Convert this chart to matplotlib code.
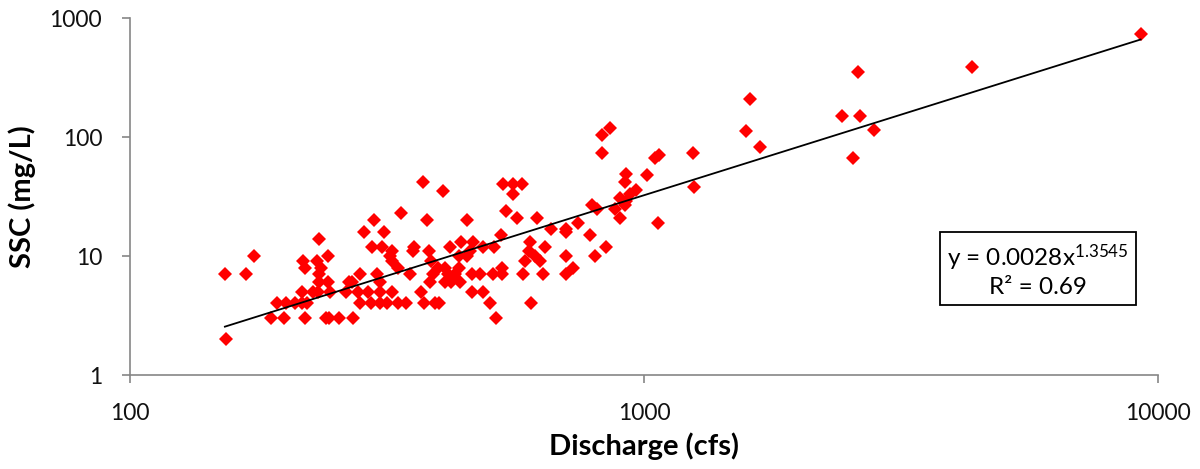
import numpy as np
import matplotlib
matplotlib.use("Agg")
import matplotlib.pyplot as plt

# Discharge (cfs) and suspended sediment concentration (mg/L) samples
discharge = [
    153, 154, 168, 174,
    188, 199, 193, 201, 209, 216, 221,
    219, 216, 217, 219, 233, 231, 243, 235, 233, 233, 243, 227, 232, 245,
    241, 244, 255, 263, 267, 272,
    285, 299, 312, 296, 309, 323, 321, 323, 332, 351, 357, 355, 382, 385,
    398, 388, 383, 369, 374, 392, 399, 345, 332, 316, 306, 295, 280,
    278, 291, 323, 270, 280, 302, 306, 306,
    371, 407, 336, 379, 452,
    420, 441, 465, 487, 458, 436, 452, 410, 436, 416, 428, 410, 421, 439,
    462, 480, 462, 487,
    532, 555, 578, 555, 539, 567, 618, 528, 511, 600, 598, 641, 613, 627,
    586, 530, 509, 530, 582, 637, 501, 515, 604,
    658, 705, 705, 745, 785, 844, 803, 705, 728, 705,
    791, 810,
    828, 859, 828, 922, 919, 1071, 1050, 1013, 964, 940, 897, 922, 880,
    920, 900, 1067, 1245, 1253,
    1607, 1580, 1681, 2427, 2607, 2633, 2800, 2555, 4345, 9250,
]
ssc = [
    7, 2, 7, 10,
    3, 3, 4, 4, 4, 4, 4,
    3, 5, 9, 8, 14, 9, 10, 8, 7, 6, 6, 5, 5, 5,
    3, 3, 3, 5, 6, 3,
    16, 20, 16, 12, 12, 11, 10, 9, 8, 7, 12, 11, 11, 9,
    8, 7, 6, 5, 4, 4, 4, 4, 4, 4, 4, 4, 4,
    5, 5, 5, 6, 7, 7, 6, 5,
    42, 35, 23, 20, 20,
    12, 13, 13, 12, 11, 10, 10, 8, 8, 7, 7, 6, 6, 6,
    7, 7, 5, 5,
    40, 40, 40, 33, 24, 21, 21, 15, 12, 13, 11, 12, 10, 9,
    9, 8, 7, 7, 7, 7, 4, 3, 4,
    17, 17, 16, 19, 15, 12, 10, 10, 8, 7,
    27, 25,
    103, 120, 74, 49, 42, 70, 66, 48, 36, 33, 31, 29, 25,
    27, 21, 19, 74, 38,
    210, 112, 82, 150, 350, 150, 114, 67, 390, 740,
]

# Power-law fit y = a * x^b
fit_a = 0.0028
fit_b = 1.3545
fit_r2 = 0.69

plt.rcParams["font.family"] = ["Lato", "DejaVu Sans"]
plt.rcParams["mathtext.fontset"] = "custom"
plt.rcParams["mathtext.rm"] = "Lato"
plt.rcParams["mathtext.it"] = "Lato:italic"

fig = plt.figure(figsize=(12, 4.69), dpi=100)
ax = fig.add_axes([0.1083, 0.2004, 0.8567, 0.7612])

ax.plot(discharge, ssc, linestyle="none", marker="D", markersize=7,
        color="#ff0000", markeredgewidth=0, zorder=3)

xf = np.logspace(np.log10(min(discharge)), np.log10(max(discharge)), 50)
ax.plot(xf, fit_a * xf ** fit_b, color="black", linewidth=1.3, zorder=4)

ax.set_xscale("log")
ax.set_yscale("log")
ax.set_xlim(100, 10000)
ax.set_ylim(1, 1000)

xticks = [100, 1000, 10000]
yticks = [1, 10, 100, 1000]
ax.set_xticks(xticks)
ax.set_xticklabels([str(t) for t in xticks])
ax.set_yticks(yticks)
ax.set_yticklabels([str(t) for t in yticks])
ax.minorticks_off()

grey = "#868686"
for side in ("top", "right"):
    ax.spines[side].set_visible(False)
for side in ("left", "bottom"):
    ax.spines[side].set_color(grey)
    ax.spines[side].set_linewidth(1.2)
ax.tick_params(axis="both", which="major", direction="out", length=6,
               width=1.2, color=grey, labelsize=16.5, labelcolor="#111111")
ax.tick_params(axis="x", pad=14)
ax.tick_params(axis="y", pad=14)

ax.set_xlabel("Discharge (cfs)", fontsize=21, fontweight="bold", labelpad=6)
ax.set_ylabel("SSC (mg/L)", fontsize=21, fontweight="bold", labelpad=10)

eq_text = "y = 0.0028x$^{1.3545}$\nR² = 0.69"
ax.text(0.883, 0.294, eq_text, transform=ax.transAxes, fontsize=17.5,
        ha="center", va="center", linespacing=1.2,
        bbox=dict(boxstyle="square,pad=0.3", facecolor="white",
                  edgecolor="black", linewidth=1.3))

fig.savefig("out.png", dpi=100)
